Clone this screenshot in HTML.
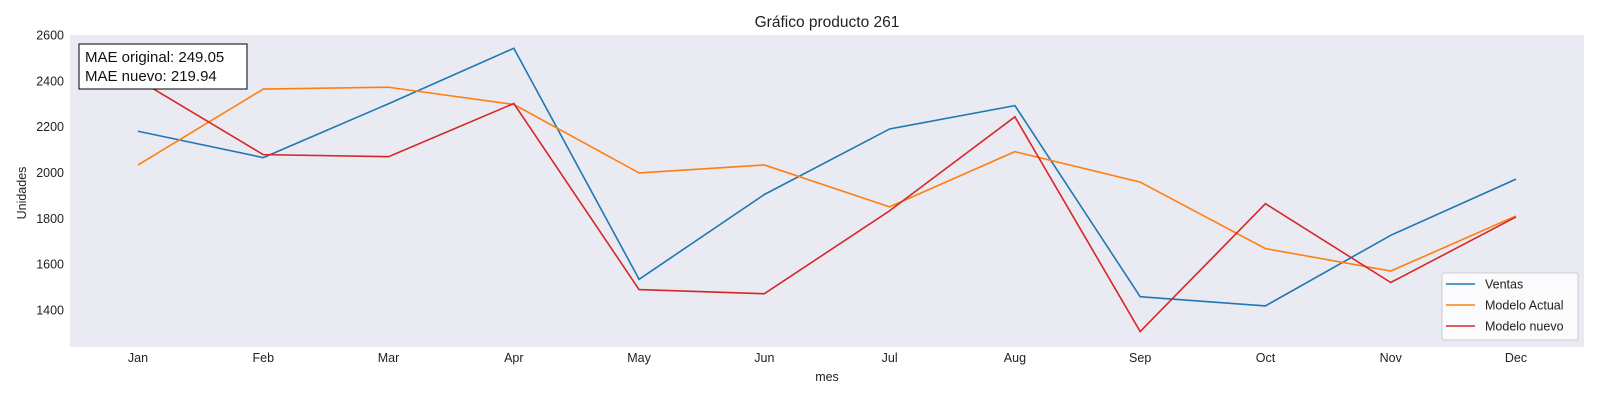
<!DOCTYPE html>
<html><head><meta charset="utf-8"><style>
body{margin:0;background:#fff;font-family:"Liberation Sans",sans-serif}
</style></head><body>
<svg id="chart" width="1600" height="400" xmlns="http://www.w3.org/2000/svg" font-family="Liberation Sans, sans-serif">
<rect x="0" y="0" width="1600" height="400" fill="#fff"/>
<rect x="70" y="35" width="1514" height="312" fill="#eaeaf2"/>
<text x="827" y="27" font-size="15.5" text-anchor="middle" fill="#222">Gráfico producto 261</text>
<text x="827" y="381" font-size="12.5" text-anchor="middle" fill="#222">mes</text>
<text transform="translate(26,193) rotate(-90)" font-size="12.5" text-anchor="middle" fill="#222">Unidades</text>
<g id="yticks"></g><g id="xticks"></g><g id="lines"></g>
<g>
<rect x="79" y="44" width="168" height="45" fill="#fff" stroke="#000" stroke-width="1"/>
<text x="85" y="62" font-size="15" fill="#111">MAE original: 249.05</text>
<text x="85" y="81" font-size="15" fill="#111">MAE nuevo: 219.94</text>
</g>
<g>
<rect x="1442" y="273" width="136" height="67" fill="#fff" fill-opacity="0.8" stroke="#ccc" rx="2"/>
<g id="legend-items"></g>
</g>
</svg>
<script>
const months=["Jan","Feb","Mar","Apr","May","Jun","Jul","Aug","Sep","Oct","Nov","Dec"];
const yTicks=[1400,1600,1800,2000,2200,2400,2600];
const ventas=[2180,2065,2300,2542,1534,1904,2190,2292,1458,1418,1726,1971];
const modeloActual=[2033,2364,2372,2297,1998,2033,1850,2091,1958,1668,1570,1810];
const modeloNuevo=[2405,2078,2069,2301,1489,1471,1833,2243,1306,1864,1520,1806];
const seriesNames=["Ventas","Modelo Actual","Modelo nuevo"];
const NS="http://www.w3.org/2000/svg";
const xS=i=>138+i*(1516-138)/11;
const yS=v=>310-(v-1400)*(310-35)/1200;
function mk(t,a,p){const e=document.createElementNS(NS,t);for(const k in a)e.setAttribute(k,a[k]);p.appendChild(e);return e;}
const yg=document.getElementById('yticks');
yTicks.forEach(v=>{const t=mk('text',{x:64,y:yS(v)+4.5,'font-size':12.5,'text-anchor':'end',fill:'#222'},yg);t.textContent=v;

});
const xg=document.getElementById('xticks');
months.forEach((m,i)=>{const t=mk('text',{x:xS(i),y:362,'font-size':12.5,'text-anchor':'middle',fill:'#222'},xg);t.textContent=m;

});
const lg=document.getElementById('lines'),leg=document.getElementById('legend-items');
[[ventas,'#1f77b4','ventas-line'],[modeloActual,'#ff7f0e','modelo-actual-line'],[modeloNuevo,'#d62728','modelo-nuevo-line']].forEach((s,k)=>{
const p=mk('polyline',{points:s[0].map((v,i)=>xS(i)+','+yS(v)).join(' '),fill:'none',stroke:s[1],'stroke-width':1.6},lg);


const y=284+k*21;
mk('line',{x1:1446,y1:y,x2:1475,y2:y,stroke:s[1],'stroke-width':1.6},leg);
const t=mk('text',{x:1485,y:y+4.5,'font-size':12.5,fill:'#222'},leg);t.textContent=seriesNames[k];


});
</script>
</body></html>
